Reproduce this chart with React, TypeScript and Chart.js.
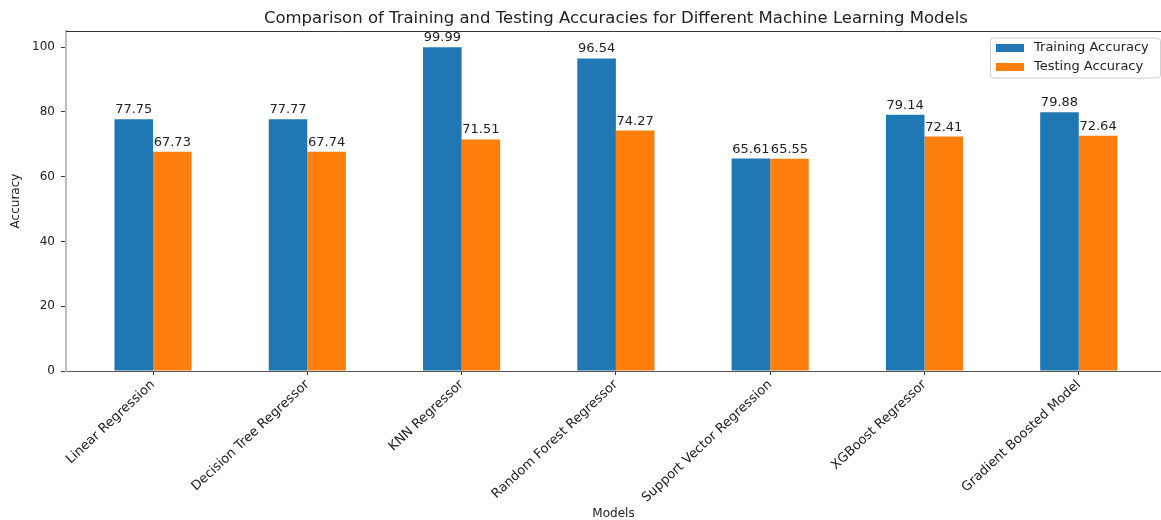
import React, { useEffect, useRef } from 'react';
import { Chart, registerables } from 'chart.js';

Chart.register(...registerables);

const models = [
  'Linear Regression',
  'Decision Tree Regressor',
  'KNN Regressor',
  'Random Forest Regressor',
  'Support Vector Regression',
  'XGBoost Regressor',
  'Gradient Boosted Model',
];
const trainingAccuracy = [77.75, 77.77, 99.99, 96.54, 65.61, 79.14, 79.88];
const testingAccuracy = [67.73, 67.74, 71.51, 74.27, 65.55, 72.41, 72.64];
const yTicks = [0, 20, 40, 60, 80, 100];
const seriesNames = ['Training Accuracy', 'Testing Accuracy'];
const seriesColors = ['#1f77b4', '#ff7f0e'];
const chartTitle = 'Comparison of Training and Testing Accuracies for Different Machine Learning Models';
const xTitle = 'Models';
const yTitle = 'Accuracy';

const FONT = "'DejaVu Sans', sans-serif";
const TEXT = '#222';

const overlay = {
  id: 'overlay',
  afterDatasetsDraw(chart: any) {
    const { ctx, chartArea } = chart;
    const xs = chart.scales.x;
    ctx.save();
    // top spine
    ctx.strokeStyle = '#333';
    ctx.lineWidth = 1;
    ctx.beginPath();
    ctx.moveTo(chartArea.left, chartArea.top + 0.5);
    ctx.lineTo(chartArea.right, chartArea.top + 0.5);
    ctx.stroke();

    // bar labels
    ctx.fillStyle = TEXT;
    ctx.font = `13px ${FONT}`;
    ctx.textAlign = 'center';
    ctx.textBaseline = 'alphabetic';
    chart.data.datasets.forEach((ds: any, di: number) => {
      const meta = chart.getDatasetMeta(di);
      meta.data.forEach((bar: any, i: number) => {
        const v = ds.data[i].y;
        ctx.fillText(v.toFixed(2), bar.x, bar.y - 6);
      });
    });

    // title
    ctx.font = `16.5px ${FONT}`;
    ctx.textBaseline = 'middle';
    ctx.fillText(chartTitle, xs.getPixelForValue((models.length - 1) / 2), 18.5);

    // legend
    const bx = 990, by = 37.5, bw = 170, bh = 40;
    ctx.fillStyle = 'rgba(255,255,255,0.85)';
    ctx.strokeStyle = '#d0d0d0';
    ctx.lineWidth = 1;
    ctx.beginPath();
    (ctx as any).roundRect(bx + 0.5, by + 0.5, bw, bh, 3);
    ctx.fill();
    ctx.stroke();
    ctx.font = `13px ${FONT}`;
    ctx.textAlign = 'left';
    ctx.textBaseline = 'middle';
    chart.data.datasets.forEach((ds: any, di: number) => {
      const cy = 48 + di * 19;
      ctx.fillStyle = ds.backgroundColor;
      ctx.fillRect(996, cy - 4, 28, 8);
      ctx.fillStyle = TEXT;
      ctx.fillText(ds.label, 1034, cy);
    });
    ctx.restore();
  },
};

export default function App() {
  const ref = useRef<HTMLCanvasElement | null>(null);

  useEffect(() => {
    document.body.style.margin = '0';
    document.body.style.overflow = 'hidden';
    const canvas = ref.current;
    if (!canvas) return;
    const series = [trainingAccuracy, testingAccuracy];
    const chart = new Chart(canvas, {
      type: 'bar',
      data: {
        datasets: series.map((vals, si) => ({
          label: seriesNames[si],
          data: vals.map((v, i) => ({ x: i, y: v })),
          backgroundColor: seriesColors[si],
          borderWidth: 0,
          categoryPercentage: 0.5,
          barPercentage: 1.0,
        })),
      },
      options: {
        animation: false,
        responsive: false,
        maintainAspectRatio: false,
        layout: { padding: { top: 31, right: 0, bottom: 0, left: 0 } },
        plugins: {
          legend: { display: false },
          title: { display: false },
          tooltip: { enabled: false },
        },
        scales: {
          x: {
            type: 'linear',
            min: -0.564,
            max: 6.533,
            offset: false,
            afterBuildTicks: (s: any) => {
              s.ticks = models.map((_, i) => ({ value: i }));
            },
            afterFit: (s: any) => {
              s.height = 149;
            },
            ticks: {
              includeBounds: false,
              autoSkip: false,
              minRotation: 43,
              maxRotation: 43,
              padding: 2,
              color: TEXT,
              font: { family: FONT, size: 13 },
              callback: (v: any) => models[v as number] ?? '',
            },
            grid: {
              display: true,
              drawOnChartArea: false,
              drawTicks: true,
              tickLength: 4,
              tickColor: '#333',
              offset: false,
            },
            border: { display: true, color: '#555', width: 1 },
            title: {
              display: true,
              text: xTitle,
              color: TEXT,
              font: { family: FONT, size: 12 },
              padding: { top: 0, bottom: -1 },
            },
          },
          y: {
            type: 'linear',
            min: 0,
            max: 105,
            afterBuildTicks: (s: any) => {
              s.ticks = yTicks.map((v) => ({ value: v }));
            },
            afterFit: (s: any) => {
              s.width = 66;
            },
            ticks: {
              includeBounds: false,
              padding: 6,
              color: TEXT,
              font: { family: FONT, size: 12 },
            },
            grid: {
              display: true,
              drawOnChartArea: false,
              drawTicks: true,
              tickLength: 5,
              tickColor: '#333',
            },
            border: { display: true, color: '#bdbdbd', width: 2 },
            title: {
              display: true,
              text: yTitle,
              color: TEXT,
              font: { family: FONT, size: 12 },
              padding: { top: 9, bottom: 0 },
            },
          },
        },
      } as any,
      plugins: [overlay],
    });
    return () => chart.destroy();
  }, []);

  return (
    <div style={{ width: 1161, height: 520, overflow: 'hidden' }}>
      <canvas ref={ref} width={1161} height={520} style={{ display: 'block' }} />
    </div>
  );
}
